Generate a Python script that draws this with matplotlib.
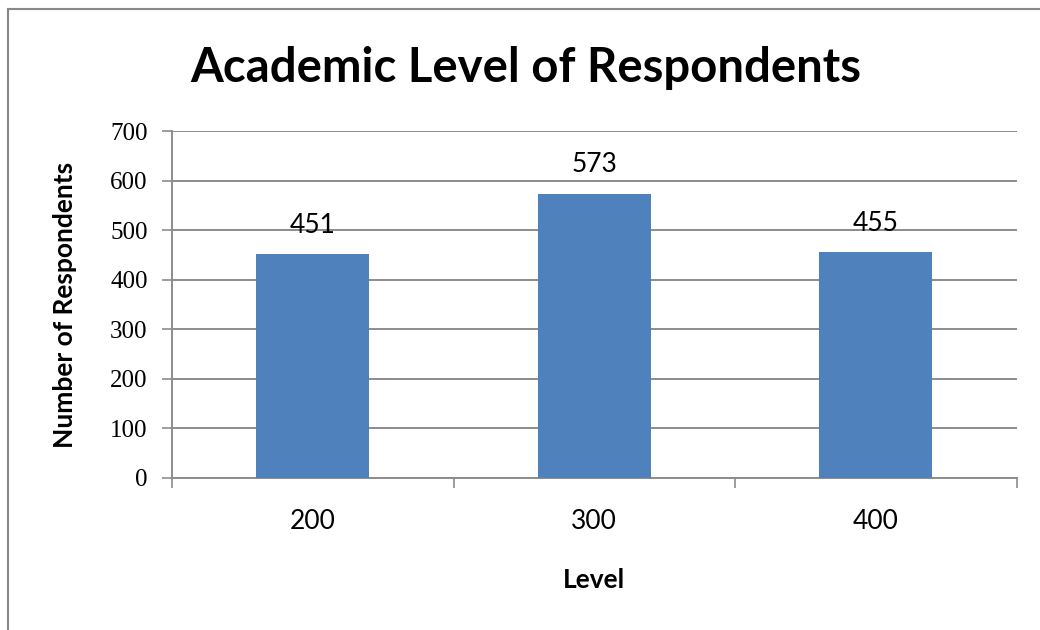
import matplotlib
matplotlib.use("Agg")
import matplotlib.pyplot as plt
from matplotlib.lines import Line2D

# Data
levels = ["200", "300", "400"]
respondents = [451, 573, 455]
y_ticks = [0, 100, 200, 300, 400, 500, 600, 700]

title = "Academic Level of Respondents"
x_title = "Level"
y_title = "Number of Respondents"

bar_color = "#4F81BD"
grid_color = "#8C8C8C"
sans = ["Lato", "DejaVu Sans"]
serif = ["Liberation Serif", "DejaVu Serif"]

W, H = 1040, 630
fig = plt.figure(figsize=(W / 100, H / 100), dpi=100)
fig.patch.set_facecolor("white")

# Plot area in pixel terms
left, right, top, bottom = 172, 1016.5, 131, 478
ax = fig.add_axes([left / W, 1 - bottom / H, (right - left) / W, (bottom - top) / H])

x = list(range(len(levels)))
bars = ax.bar(x, respondents, width=0.4, color=bar_color, zorder=3)

ax.set_xlim(-0.5, len(levels) - 0.5)
ax.set_ylim(0, 700)
ax.set_yticks(y_ticks)
ax.set_yticklabels([str(v) for v in y_ticks], fontfamily=serif, fontsize=18)
ax.yaxis.grid(True, color=grid_color, linewidth=1.4, zorder=0)
ax.set_axisbelow(True)

# Category ticks at boundaries, labels at centers
ax.set_xticks([i - 0.5 for i in range(len(levels) + 1)])
ax.set_xticklabels([])
ax.set_xticks(x, minor=True)
ax.set_xticklabels(levels, minor=True, fontfamily=sans, fontsize=19)
ax.tick_params(axis="x", which="major", direction="out", length=7.5, width=1.2, color=grid_color)
ax.tick_params(axis="x", which="minor", length=0, pad=22)
ax.tick_params(axis="y", direction="out", length=7.5, width=1.2, color=grid_color, pad=10)

for s in ["top", "right"]:
    ax.spines[s].set_visible(False)
for s in ["left", "bottom"]:
    ax.spines[s].set_color(grid_color)
    ax.spines[s].set_linewidth(1.4)

# Value labels
for xi, v in zip(x, respondents):
    ax.annotate(str(v), (xi, v), xytext=(0, 21), textcoords="offset points",
                ha="center", va="center", fontfamily=sans, fontsize=19)

fig.text(526 / W, 1 - 68 / H, title, ha="center", va="center",
         fontfamily=sans, fontweight="bold", fontsize=34)
fig.text(594 / W, 1 - 580 / H, x_title, ha="center", va="center",
         fontfamily=sans, fontweight="bold", fontsize=19)
fig.text(65 / W, 1 - 305 / H, y_title, ha="center", va="center", rotation=90,
         fontfamily=sans, fontweight="bold", fontsize=19)

# Chart border
fig.add_artist(Line2D([8 / W, 8 / W], [0, 1 - 9 / H], transform=fig.transFigure,
                      color="#888888", linewidth=1.5))
fig.add_artist(Line2D([8 / W, 1], [1 - 9 / H, 1 - 9 / H], transform=fig.transFigure,
                      color="#888888", linewidth=1.5))

fig.savefig("out.png", dpi=100, facecolor="white")
